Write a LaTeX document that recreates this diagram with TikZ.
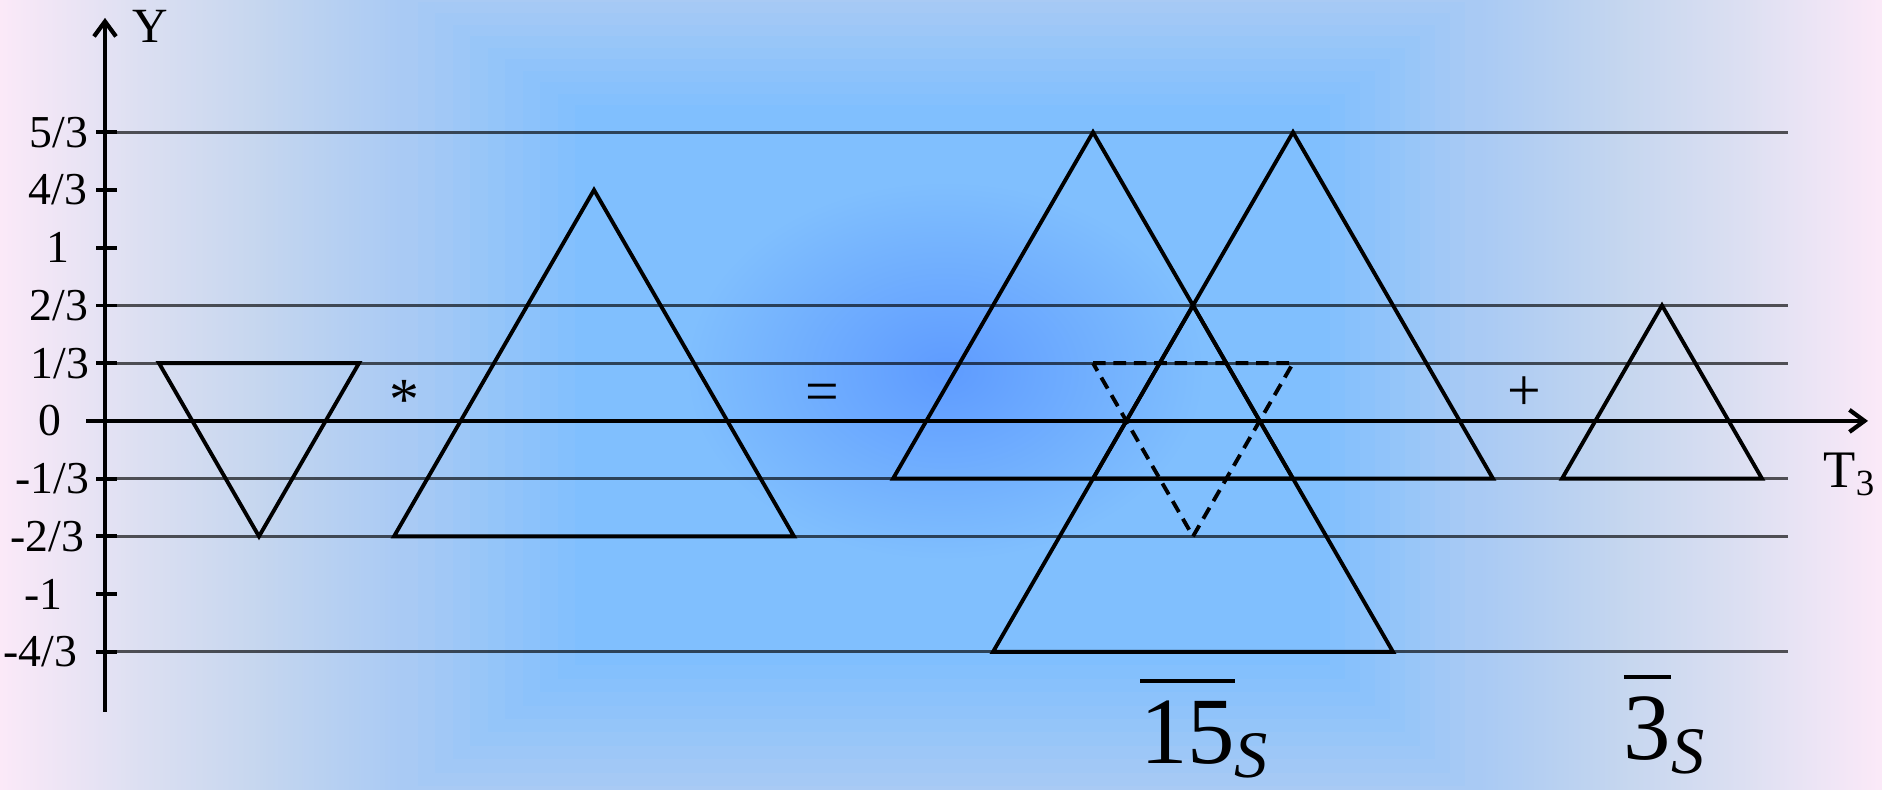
\documentclass[tikz,border=0pt]{standalone}
\usepackage{fontspec}
\setmainfont{Liberation Serif}
\usepackage{amsmath}
\usetikzlibrary{arrows.meta}
\definecolor{edgepink}{HTML}{FBE9F8}
\definecolor{lilac}{HTML}{DEE0F2}
\definecolor{greyblue}{HTML}{C5D6EF}
\definecolor{paleblue}{HTML}{A9CAF4}
\definecolor{bandblue}{HTML}{80BFFE}
\definecolor{coreblue}{HTML}{5E9BFF}

\begin{document}
\begin{tikzpicture}[x=1cm,y=0.5774cm,
  every node/.style={font=\fontsize{13}{15}\selectfont,inner sep=0pt},
  grid/.style={black,opacity=0.65,line width=0.8pt},
  axis/.style={black,line width=1.2pt},
  tri/.style={black,line width=1.1pt,line join=miter},
  op/.style={font=\fontsize{17}{20}\selectfont},
  barlab/.style={font=\fontsize{27}{32}\selectfont,anchor=base}]
\useasboundingbox (-1.05,-6.39) rectangle (17.77,7.29);
% background
\begin{scope}
\clip (-1.05,-6.39) rectangle (17.77,7.29);
\shade[left color=edgepink,right color=lilac] (-1.05,-6.39) rectangle (0.27,7.29);
\shade[left color=lilac,right color=greyblue] (0.25,-6.39) rectangle (1.57,7.29);
\shade[left color=greyblue,right color=paleblue] (1.55,-6.39) rectangle (2.97,7.29);
\fill[paleblue] (2.95,-6.39) rectangle (13.77,7.29);
\shade[left color=paleblue,right color=greyblue] (13.75,-6.39) rectangle (15.17,7.29);
\shade[left color=greyblue,right color=lilac] (15.15,-6.39) rectangle (16.47,7.29);
\shade[left color=lilac,right color=edgepink] (16.45,-6.39) rectangle (17.77,7.29);
\foreach \i [evaluate=\i as \p using int(10*\i)] in {0,...,10}
  \fill[bandblue!\p!paleblue] ({2.95+0.175*\i},{-6.56+0.233*\i}) rectangle ({13.75-0.15*\i},{7.46-0.199*\i});
\shade[inner color=coreblue,outer color=bandblue] (8.4,0.87) ellipse [x radius=2.6cm,y radius=1.9cm];
\end{scope}
% grid lines
\foreach \k in {5,2,1,-1,-2,-4}
  \draw[grid] (0,\k) -- (16.83,\k);
% axes
\coordinate (ybot) at (0,-5.04);
\coordinate (ytop) at (0,6.98);
\coordinate (xleft) at (-0.19,0);
\coordinate (xright) at (17.63,0);
\draw[axis,-{Straight Barb[length=1.5mm,width=2.2mm]}] (ybot) -- (ytop);
\draw[axis,-{Straight Barb[length=1.5mm,width=2.2mm]}] (xleft) -- (xright);
\foreach \k in {-4,...,5}
  \draw[black,line width=1.1pt] (-0.09,\k) -- (0.12,\k);
\node[font=\fontsize{14}{16}\selectfont,anchor=base west] (ylab) at (0.27,6.55) {Y};
\node[font=\fontsize{15}{18}\selectfont,anchor=base west] (tlab) at (17.18,-1.16) {T$_{\text{3}}$};
% tick labels
\node[anchor=east] (t5) at (-0.16,5) {5/3};
\node[anchor=east] (t4) at (-0.17,4) {4/3};
\node[anchor=east] (t3) at (-0.35,3) {1};
\node[anchor=east] (t2) at (-0.16,2) {2/3};
\node[anchor=east] (t1) at (-0.15,1) {1/3};
\node[anchor=east] (t0) at (-0.43,0) {0};
\node[anchor=east] (tm1) at (-0.15,-1) {-1/3};
\node[anchor=east] (tm2) at (-0.20,-2) {-2/3};
\node[anchor=east] (tm3) at (-0.42,-3) {-1};
\node[anchor=east] (tm4) at (-0.27,-4) {-4/3};
% weight diagrams
\draw[tri] (0.54,1) -- (2.54,1) -- (1.54,-2) -- cycle;
\draw[tri] (2.89,-2) -- (6.89,-2) -- (4.89,4) -- cycle;
\draw[tri] (7.88,-1) -- (11.88,-1) -- (9.88,5) -- cycle;
\draw[tri] (9.88,-1) -- (13.88,-1) -- (11.88,5) -- cycle;
\draw[tri] (8.88,-4) -- (12.88,-4) -- (10.88,2) -- cycle;
\draw[tri,dash pattern=on 3.6pt off 2.2pt] (9.88,1) -- (11.88,1) -- (10.88,-2) -- cycle;
\draw[tri] (14.57,-1) -- (16.57,-1) -- (15.57,2) -- cycle;
% operators
\node[op] (star) at (2.99,0.36) {*};
\node[op] (eq) at (7.17,0.40) {=};
\node[op] (plus) at (14.19,0.48) {+};
% multiplet labels
\node[barlab] (fifteen) at (11.0,-5.93) {$\overline{\rule{0pt}{0.74em}\mbox{15}}_{\text{\itshape S}}$};
\node[barlab] (threebar) at (15.6,-5.86) {$\overline{\rule{0pt}{0.74em}\mbox{3}}_{\text{\itshape S}}$};
\end{tikzpicture}
\end{document}
